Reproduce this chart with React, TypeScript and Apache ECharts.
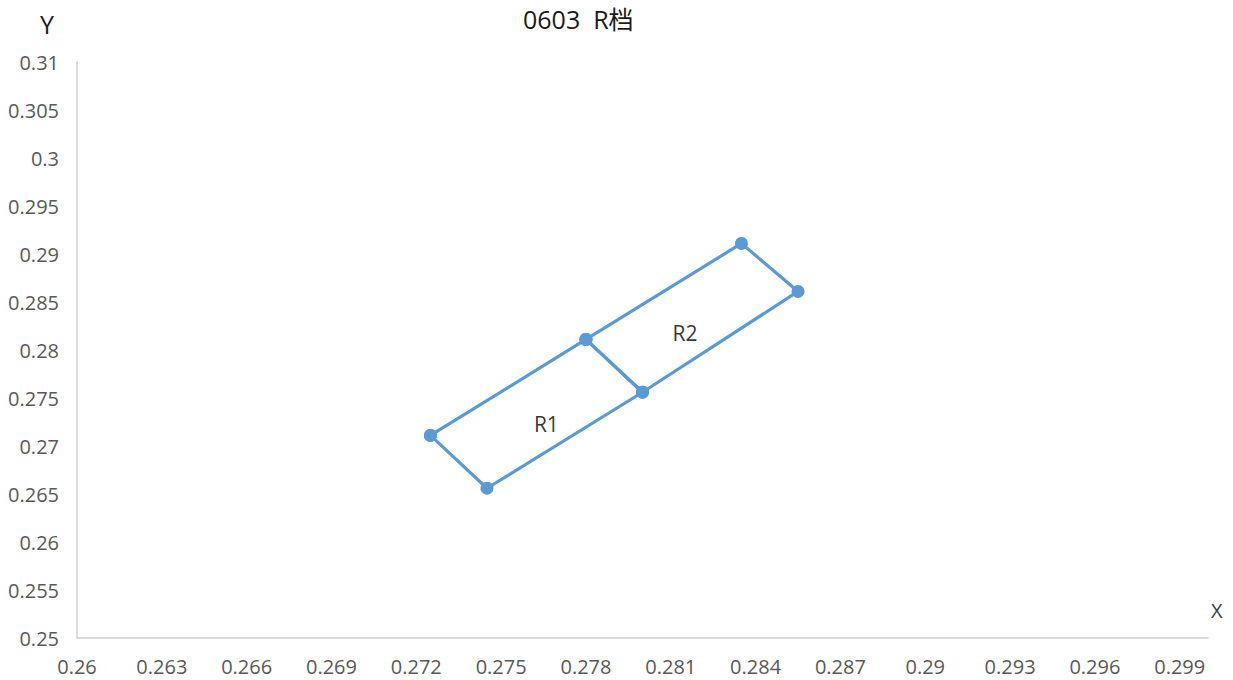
import React, { useEffect, useRef } from 'react';
import * as echarts from 'echarts';

const TITLE = '0603  R档';
const X_NAME = 'X';
const Y_NAME = 'Y';
const X_MIN = 0.26;
const X_MAX = 0.3;
const X_STEP = 0.003;
const Y_MIN = 0.25;
const Y_MAX = 0.31;
const Y_STEP = 0.005;

const R1_X = [0.2725, 0.278, 0.28, 0.2745, 0.2725];
const R1_Y = [0.2711, 0.2811, 0.2756, 0.2656, 0.2711];
const R2_X = [0.278, 0.2835, 0.2855, 0.28, 0.278];
const R2_Y = [0.2811, 0.2911, 0.2861, 0.2756, 0.2811];

const REGION_NAMES = ['R1', 'R2'];
const REGION_LABEL_X = [0.2766, 0.2815];
const REGION_LABEL_Y = [0.2723, 0.2818];

const FONT = '"Open Sans", "Noto Sans CJK SC", sans-serif';
const BLUE = '#5B9BD5';

const fmt = (v: number) => String(+v.toFixed(4));

export default function App() {
  const ref = useRef<HTMLDivElement>(null);
  useEffect(() => {
    document.body.style.margin = '0';
    if (!ref.current) return;
    const chart = echarts.init(ref.current, undefined, { renderer: 'svg' });
    const zip = (xs: number[], ys: number[]) => xs.map((x, i) => [x, ys[i]]);
    const lineSeries = (name: string, data: number[][]) => ({
      name,
      type: 'line',
      data,
      symbol: 'circle',
      symbolSize: 13,
      lineStyle: { color: BLUE, width: 3.2 },
      itemStyle: { color: BLUE },
      emphasis: { disabled: true },
    });
    chart.setOption({
      animation: false,
      textStyle: { fontFamily: FONT },
      title: {
        text: TITLE,
        left: 523,
        top: 6,
        padding: 0,
        textStyle: { fontFamily: FONT, fontSize: 25, fontWeight: 'normal', color: '#1a1a1a' },
      },
      grid: { left: 77, right: 25, top: 62, bottom: 42, containLabel: false },
      xAxis: {
        type: 'value',
        min: X_MIN,
        max: X_MAX,
        interval: X_STEP,
        name: X_NAME,
        nameLocation: 'end',
        nameGap: 3,
        nameTextStyle: {
          fontFamily: FONT,
          fontSize: 20,
          color: '#404040',
          verticalAlign: 'bottom',
          align: 'left',
          padding: [0, 0, 18, 0],
        },
        axisLine: { show: true, lineStyle: { color: '#d0d0d0', width: 1.5 } },
        axisTick: { show: false },
        splitLine: { show: false },
        axisLabel: {
          margin: 18,
          fontFamily: FONT,
          fontSize: 20,
          color: '#595959',
          showMaxLabel: false,
          hideOverlap: false,
          formatter: (v: number) => (v > X_MAX - X_STEP / 10 ? '' : fmt(v)),
        },
      },
      yAxis: {
        type: 'value',
        min: Y_MIN,
        max: Y_MAX,
        interval: Y_STEP,
        name: Y_NAME,
        nameLocation: 'end',
        nameGap: 26,
        nameTextStyle: { fontFamily: FONT, fontSize: 25, color: '#1a1a1a', padding: [0, 60, 0, 0] },
        axisLine: { show: true, lineStyle: { color: '#d0d0d0', width: 1.5 } },
        axisTick: { show: false },
        splitLine: { show: false },
        axisLabel: {
          margin: 18,
          fontFamily: FONT,
          fontSize: 20,
          color: '#595959',
          formatter: (v: number) => fmt(v),
        },
      },
      series: [
        lineSeries('R1', zip(R1_X, R1_Y)),
        lineSeries('R2', zip(R2_X, R2_Y)),
        {
          name: 'labels',
          type: 'scatter',
          symbolSize: 0,
          data: REGION_NAMES.map((n, i) => ({ name: n, value: [REGION_LABEL_X[i], REGION_LABEL_Y[i]] })),
          label: {
            show: true,
            position: 'inside',
            formatter: '{b}',
            fontFamily: FONT,
            fontSize: 21,
            color: '#000',
          },
          emphasis: { disabled: true },
        },
      ],
    });
    return () => chart.dispose();
  }, []);
  return <div ref={ref} style={{ width: 1233, height: 680 }} />;
}
